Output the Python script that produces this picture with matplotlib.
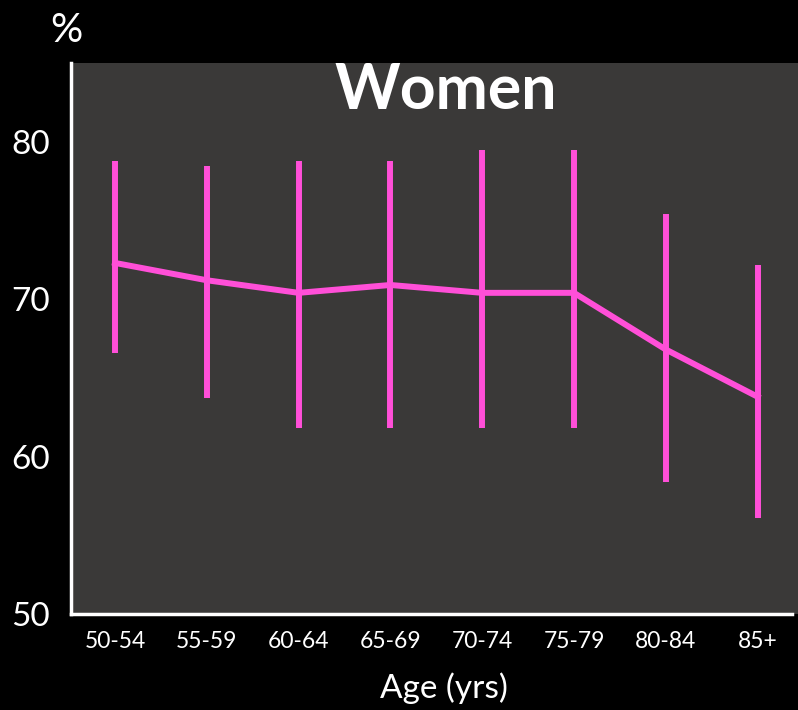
#!/usr/bin/env python3

import matplotlib
matplotlib.use("Agg")
import matplotlib.pyplot as plt
import numpy as np

plt.rcParams["font.family"] = ["Lato", "DejaVu Sans"]

# Data
age_groups = ["50-54", "55-59", "60-64", "65-69", "70-74", "75-79", "80-84", "85+"]
mean_pct = [72.3, 71.2, 70.4, 70.9, 70.4, 70.4, 66.8, 63.8]
upper_pct = [78.75, 78.45, 78.75, 78.75, 79.5, 79.5, 75.4, 72.2]
lower_pct = [66.6, 63.7, 61.8, 61.8, 61.8, 61.8, 58.4, 56.1]
y_ticks = [50, 60, 70, 80]

PINK = "#ff4fd8"
PANEL = "#3a3938"

fig = plt.figure(figsize=(7.98, 7.10), dpi=100, facecolor="black")
ax = fig.add_axes([71 / 798, 96 / 710, 727 / 798, 551 / 710])
ax.set_facecolor(PANEL)

xs = np.arange(len(age_groups))
mean = np.array(mean_pct)
yerr = [mean - np.array(lower_pct), np.array(upper_pct) - mean]

ax.errorbar(xs, mean, yerr=yerr, color=PINK, linewidth=4.3,
            elinewidth=4.3, capsize=0, zorder=3)

ax.set_xlim(-0.479, 7.44)
ax.set_ylim(50, 85)

ax.set_xticks(xs)
ax.set_xticklabels(age_groups, fontsize=16.5, color="white")
ax.set_yticks(y_ticks)
ax.set_yticklabels([str(t) for t in y_ticks], fontsize=24, color="white")
ax.tick_params(axis="both", length=0)
ax.tick_params(axis="x", pad=12)
ax.tick_params(axis="y", pad=15)

for side in ["top", "right"]:
    ax.spines[side].set_visible(False)
for side in ["left", "bottom"]:
    ax.spines[side].set_color("white")
    ax.spines[side].set_linewidth(2.5)
ax.spines["bottom"].set_bounds(-0.479, 7.375)

# axis title placed as figure text so it sits where the reference has it
fig.text(444 / 798, 1 - 688 / 710, "Age (yrs)", ha="center", va="center",
         fontsize=24, color="white")

ax.text(0.515, 0.95, "Women", transform=ax.transAxes, ha="center", va="center",
        fontsize=45, fontweight="bold", color="white")
fig.text(66 / 798, 1 - 30 / 710, "%", ha="center", va="center",
         fontsize=29, color="white")

fig.savefig("out.png", dpi=100, facecolor="black")
